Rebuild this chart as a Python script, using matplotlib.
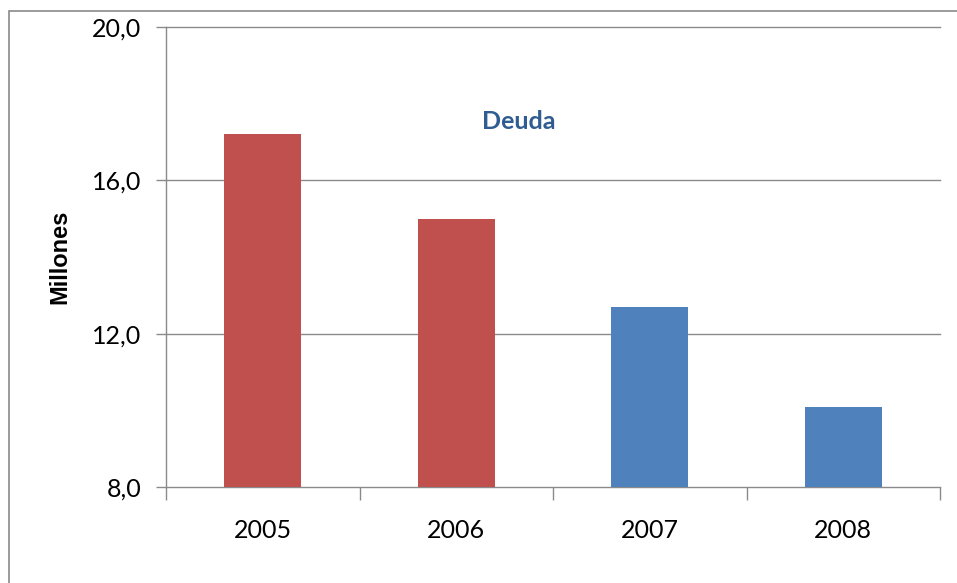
import numpy as np
import matplotlib
matplotlib.use("Agg")
import matplotlib.pyplot as plt
from matplotlib.patches import Rectangle

# ── data ─────────────────────────────────────────────────────────────────────
years  = ["2005", "2006", "2007", "2008"]
deuda  = [17.2, 15.0, 12.7, 10.1]
colors = ["#C0504D", "#C0504D", "#4F81BD", "#4F81BD"]
yticks = [8.0, 12.0, 16.0, 20.0]

plt.rcParams["font.family"] = ["Lato", "DejaVu Sans"]
GRAY = "#8a8a8a"

fig = plt.figure(figsize=(9.57, 5.83), dpi=100)
ax = fig.add_axes([166/957, 1 - 487/583, (940 - 166)/957, (487 - 27)/583])

x = np.arange(len(years))
ax.bar(x, [v - 8.0 for v in deuda], bottom=8.0, width=0.40, color=colors, zorder=3)

ax.set_ylim(8.0, 20.0)
ax.set_xlim(-0.5, len(years) - 0.5)
ax.set_yticks(yticks)
ax.set_yticklabels([f"{t:.1f}".replace(".", ",") for t in yticks], fontsize=18)
for t in yticks[1:]:
    ax.axhline(t, color=GRAY, lw=1.0, zorder=0, clip_on=False)

# category labels centred, ticks at category boundaries
ax.set_xticks(np.arange(-0.5, len(years)))
ax.set_xticklabels([])
ax.set_xticks(x, minor=True)
ax.set_xticklabels(years, minor=True, fontsize=18)
ax.tick_params(axis="x", which="minor", length=0, pad=23)
ax.tick_params(axis="x", which="major", length=9, color=GRAY, width=1)
ax.tick_params(axis="y", length=7, color=GRAY, width=1, pad=11)

for s in ["top", "right"]:
    ax.spines[s].set_visible(False)
for s in ["left", "bottom"]:
    ax.spines[s].set_color(GRAY)
    ax.spines[s].set_linewidth(1.0)

ax.set_ylabel("Millones", fontsize=17, fontweight="bold",
              family=["Liberation Sans", "DejaVu Sans"])
ax.yaxis.set_label_coords(-0.122, 0.5)

ax.text(0.456, 0.795, "Deuda", transform=ax.transAxes, ha="center", va="center",
        fontsize=18, fontweight="bold", color="#2F5C91")

# outer chart border (only left/top edges fall inside the image)
fig.patches.append(Rectangle((9/957, -0.1), 1.2, 1.1 - 11/583, transform=fig.transFigure,
                             fill=False, edgecolor=GRAY, lw=1.2))

fig.savefig("out.png", dpi=100, facecolor="white")
